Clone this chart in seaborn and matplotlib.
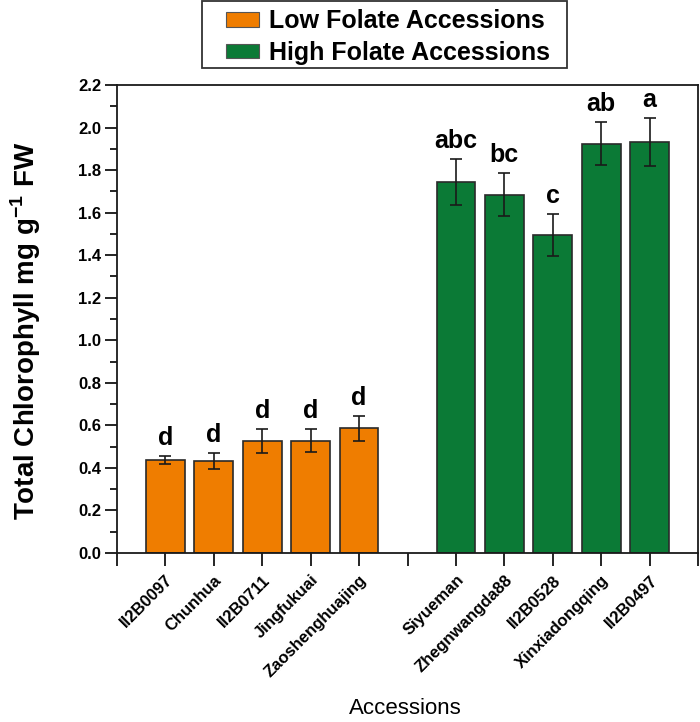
import numpy as np
import pandas as pd
import matplotlib
matplotlib.use('Agg')
import matplotlib.pyplot as plt
import seaborn as sns

# data
accessions = ['II2B0097', 'Chunhua', 'II2B0711', 'Jingfukuai', 'Zaoshenghuajing',
              'Siyueman', 'Zhegnwangda88', 'II2B0528', 'Xinxiadongqing', 'II2B0497']
chlorophyll = [0.437, 0.433, 0.525, 0.528, 0.586, 1.743, 1.685, 1.495, 1.924, 1.932]
sd = [0.017, 0.036, 0.057, 0.054, 0.058, 0.109, 0.100, 0.099, 0.100, 0.115]
letters = ['d', 'd', 'd', 'd', 'd', 'abc', 'bc', 'c', 'ab', 'a']
groups = ['Low Folate Accessions'] * 5 + ['High Folate Accessions'] * 5
pos = [1, 2, 3, 4, 5, 7, 8, 9, 10, 11]

df = pd.DataFrame({'pos': pos, 'name': accessions, 'chl': chlorophyll,
                   'sd': sd, 'letter': letters, 'group': groups})

sns.set_style('ticks')
plt.rcParams['font.family'] = ['Liberation Sans', 'DejaVu Sans']
plt.rcParams['text.color'] = 'black'
plt.rcParams['axes.labelcolor'] = 'black'
plt.rcParams['xtick.color'] = 'black'
plt.rcParams['ytick.color'] = 'black'
plt.rcParams['mathtext.fontset'] = 'custom'
plt.rcParams['mathtext.rm'] = 'Liberation Sans'
plt.rcParams['mathtext.bf'] = 'Liberation Sans:bold'

fig = plt.figure(figsize=(7, 7.22), dpi=100)
ax = fig.add_axes([117 / 700, 1 - 553 / 722, 581 / 700, 468 / 722])

pal = {'Low Folate Accessions': '#EF7D00', 'High Folate Accessions': '#0B7A36'}
sns.barplot(data=df, x='pos', y='chl', hue='group', palette=pal, native_scale=True,
            width=0.8, dodge=False, errorbar=None, edgecolor='#2a2a2a',
            linewidth=1.2, saturation=1, ax=ax, legend=False)
ax.errorbar(df['pos'], df['chl'], yerr=df['sd'], fmt='none', ecolor='#1a1a1a',
            elinewidth=1.2, capsize=4.5, capthick=1.2)

for p, v, e, t in zip(df['pos'], df['chl'], df['sd'], df['letter']):
    ax.text(p, v + e + 0.028, t, ha='center', va='bottom', fontsize=18,
            fontweight='bold')

ax.set_xlim(0, 12)
ax.set_ylim(0, 2.2)
ax.set_xticks(range(0, 13))
xlabels = [''] * 13
for p, n in zip(pos, accessions):
    xlabels[p] = n
ax.set_xticklabels(xlabels, rotation=45, ha='right', rotation_mode='anchor',
                   fontsize=12, fontweight='bold')
ax.set_yticks(np.arange(0, 2.21, 0.2))
ax.set_yticks(np.arange(0.1, 2.2, 0.2), minor=True)
ax.set_yticklabels(['%.1f' % v for v in np.arange(0, 2.21, 0.2)],
                   fontsize=12, fontweight='bold')
ax.tick_params(axis='y', which='major', length=9, width=1.2, direction='out', pad=2.5)
ax.tick_params(axis='y', which='minor', length=5, width=1.2, direction='out')
ax.tick_params(axis='x', length=9, width=1.2, direction='out', pad=5)
for s in ax.spines.values():
    s.set_linewidth(1.3)
    s.set_color('#1a1a1a')

ax.set_xlabel('Accessions', fontsize=16)
ax.xaxis.set_label_coords(0.497, -0.31)
ax.set_ylabel('Total Chlorophyll mg g$^{\\mathbf{-1}}$ FW', fontsize=20,
              fontweight='bold')
ax.yaxis.set_label_coords(-0.127, 0.474)

handles = [plt.Rectangle((0, 0), 1, 1, facecolor=pal[g], edgecolor='#555555', lw=0.8)
           for g in ['Low Folate Accessions', 'High Folate Accessions']]
leg = fig.legend(handles, ['Low Folate Accessions', 'High Folate Accessions'],
                 loc='center', bbox_to_anchor=(388 / 700, 1 - 37 / 722),
                 prop={'weight': 'bold', 'size': 18}, frameon=False,
                 handlelength=1.35, handleheight=0.5, handletextpad=0.4,
                 labelspacing=0.3, borderpad=0.1)
fig.patches.append(plt.Rectangle((202 / 700, 1 - 68 / 722), 365 / 700, 67 / 722,
                                 transform=fig.transFigure, fill=False,
                                 edgecolor='#333333', lw=1.3))

fig.savefig('out.png', dpi=100)
